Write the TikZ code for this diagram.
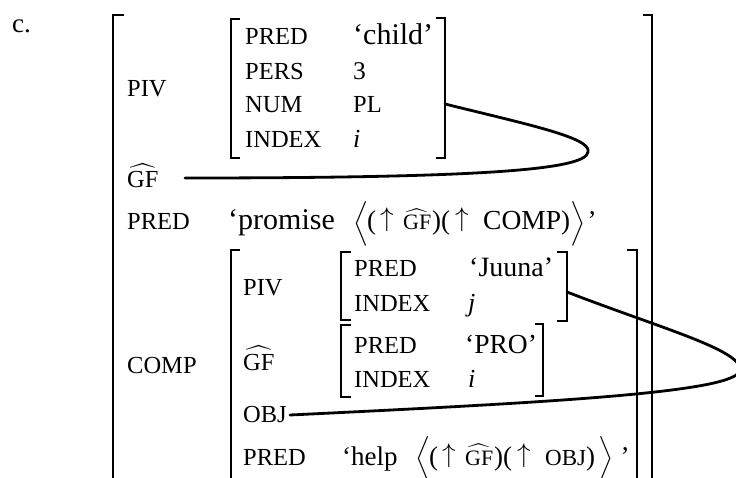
\documentclass[tikz,border=0pt]{standalone}
\usepackage{fix-cm}
\usepackage{amsmath}
\usepackage{fontspec}
\setmainfont{Liberation Serif}
\newcommand\lfnt{\fontsize{24.5}{29}\selectfont}
\newcommand\vfnt[1]{\fontsize{#1}{#1}\selectfont}
\newcommand\hatgf{$\widehat{\text{GF}}$}
\newcommand\langbig{{\fontsize{23.5}{28}\selectfont$\left\langle\vcenter{\hbox{\rule{0pt}{38pt}}}\right.$}}
\newcommand\rangbig{{\fontsize{23.5}{28}\selectfont$\left.\vcenter{\hbox{\rule{0pt}{38pt}}}\right\rangle$}}
\newcommand\arr{\raisebox{3pt}{\fontsize{27}{30}\selectfont$\uparrow$}}
\newcommand\gfsm{{\fontsize{22}{25}\selectfont\hatgf}}
\newcommand\fslot[2]{\makebox[#1][l]{#2}}
% #1 = item after the second arrow, #2 = space before the closing angle, #3 = space before the closing quote
\newcommand\fla[3]{{\vfnt{27}\fslot{14pt}{\langbig}\fslot{13pt}{(}\fslot{23pt}{\arr}\fslot{29pt}{\gfsm}\fslot{9pt}{)}\fslot{14pt}{(}\fslot{28pt}{\arr}#1)\hspace{#2}\rangbig\hspace{#3}’}}
\begin{document}
\begin{tikzpicture}[x=1pt,y=-1pt,
  txt/.style={inner sep=0pt, anchor=base west},
  lab/.style={txt, font=\lfnt},
  brk/.style={line width=1.1pt, line cap=butt, line join=miter},
  link/.style={line width=2.8pt, line cap=round}]
\useasboundingbox (0,0) rectangle (736,478);

% label c.
\node[txt, font=\vfnt{27}] (c) at (12,33) {c.};

% outer brackets
\draw[brk] (124,15) -- (113,15) -- (113,480);
\draw[brk] (643,15) -- (652,15) -- (652,480);

% top level labels
\node[lab] (piv) at (127,97) {PIV};
\node[lab] (gf) at (127,188) {\hatgf};
\node[lab] (pred) at (127,230) {PRED};
\node[lab] (comp) at (127,373) {COMP};

% PIV f-structure
\draw[brk] (240,19) -- (231,19) -- (231,158) -- (240,158);
\draw[brk] (436,18) -- (445,18) -- (445,158) -- (436,158);
\node[lab] (p1) at (245,45) {PRED};
\node[lab] (p2) at (245,80) {PERS};
\node[lab] (p3) at (245,113) {NUM};
\node[lab] (p4) at (245,148) {INDEX};
\node[txt, font=\vfnt{30}] (v1) at (353,45) {‘child’};
\node[txt, font=\vfnt{25.5}] (v2) at (353,80) {3};
\node[lab] (v3) at (353,113) {PL};
\node[txt, font=\vfnt{26}] (v4) at (353,148) {\textit{i}};

% promise
\node[txt] (prom) at (228,230) {\fslot{125pt}{\vfnt{30}‘promise}\fla{{\vfnt{27.5}COMP}}{-1pt}{2pt}};

% COMP f-structure
\draw[brk] (240,250) -- (231,250) -- (231,480);
\draw[brk] (627,250) -- (637,250) -- (637,480);
\node[lab] (cpiv) at (243,295) {PIV};
\node[lab] (cgf) at (243,370) {\hatgf};
\node[lab] (cobj) at (243,422) {OBJ};
\node[lab] (cpred) at (243,465) {PRED};

% Juuna
\draw[brk] (351,252) -- (341,252) -- (341,320) -- (351,320);
\draw[brk] (557,252) -- (567,252) -- (567,321) -- (557,321);
\node[lab] (j1) at (354,277) {PRED};
\node[lab] (j2) at (354,312) {INDEX};
\node[txt, font=\vfnt{28}] (jv1) at (469,277) {‘Juuna’};
\node[txt, font=\vfnt{26}] (jv2) at (468,312) {\textit{j}};

% PRO
\draw[brk] (351,325) -- (341,325) -- (341,397) -- (351,397);
\draw[brk] (535,324) -- (543,324) -- (543,396) -- (535,396);
\node[lab] (r1) at (354,353) {PRED};
\node[lab] (r2) at (354,387) {INDEX};
\node[txt, font=\vfnt{27.5}] (rv1) at (465,353) {‘PRO’};
\node[txt, font=\vfnt{26}] (rv2) at (468,387) {\textit{i}};

% help
\node[txt] (help) at (342,465) {\fslot{73pt}{\vfnt{27}‘help}\fla{{\vfnt{23}OBJ}}{2pt}{7pt}};

% links
\coordinate (l1s) at (445,104);
\coordinate (l1m) at (588,152);
\coordinate (l1e) at (185,178);
\draw[link] (l1s) .. controls (530,125) and (592,138) .. (l1m)
  .. controls (586,170) and (480,178) .. (l1e);
\coordinate (l2s) at (567,292);
\coordinate (l2m) at (740,370);
\coordinate (l2e) at (290,415);
\draw[link] (l2s) .. controls (660,328) and (742,350) .. (l2m)
  .. controls (738,392) and (560,402) .. (l2e);
\end{tikzpicture}
\end{document}
